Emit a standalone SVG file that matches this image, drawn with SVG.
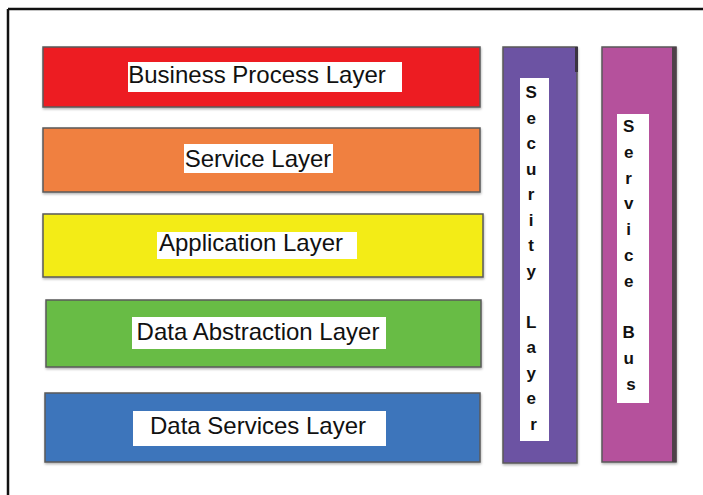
<svg xmlns="http://www.w3.org/2000/svg" width="703" height="495" viewBox="0 0 703 495">
  <style>
    .bar { stroke: #5a5a5a; stroke-width: 1.5; }
    .tag { fill: #ffffff; }
    .lbl { font-family: "Liberation Sans", Arial, sans-serif; font-size: 24px; fill: #111111; text-anchor: middle; }
    .vl { font-family: "Liberation Sans", Arial, sans-serif; font-size: 17px; font-weight: bold; fill: #111111; text-anchor: middle; }
  </style>
  <defs>
    <filter id="shade" x="-5%" y="-5%" width="110%" height="115%">
      <feDropShadow dx="0.5" dy="1.5" stdDeviation="1" flood-color="#000000" flood-opacity="0.3"/>
    </filter>
  </defs>

  <rect x="0" y="0" width="703" height="495" fill="#ffffff"/>

  <!-- frame: top and left edges -->
  <g id="frame" stroke="#111111" stroke-width="2.5" fill="none">
    <line x1="8" y1="9" x2="703" y2="9"/>
    <line x1="8" y1="9" x2="8" y2="495"/>
  </g>

  <g id="business-process-layer">
    <rect class="bar" x="43" y="47" width="437" height="60" fill="#ED1C24" filter="url(#shade)"/>
    <rect class="tag" x="128" y="62" width="274" height="30"/>
    <text class="lbl" x="257" y="83">Business Process Layer</text>
  </g>

  <g id="service-layer">
    <rect class="bar" x="43" y="128" width="437" height="64" fill="#F08040" filter="url(#shade)"/>
    <rect class="tag" x="184" y="144" width="149" height="29"/>
    <text class="lbl" x="258" y="167">Service Layer</text>
  </g>

  <g id="application-layer">
    <rect class="bar" x="43" y="214" width="440" height="63" fill="#F3EC19" filter="url(#shade)"/>
    <rect class="tag" x="157" y="232" width="200" height="27"/>
    <text class="lbl" x="251" y="251">Application Layer</text>
  </g>

  <g id="data-abstraction-layer">
    <rect class="bar" x="46" y="300" width="435" height="67" fill="#68BC45" filter="url(#shade)"/>
    <rect class="tag" x="132" y="317" width="254" height="32"/>
    <text class="lbl" x="258" y="340">Data Abstraction Layer</text>
  </g>

  <g id="data-services-layer">
    <rect class="bar" x="45" y="393" width="435" height="69" fill="#3E75BB" filter="url(#shade)"/>
    <rect class="tag" x="133" y="411" width="253" height="35"/>
    <text class="lbl" x="258" y="434">Data Services Layer</text>
  </g>

  <g id="security-layer">
    <rect class="bar" x="503" y="47" width="74" height="416" fill="#6C52A3" filter="url(#shade)"/>
    <rect x="575" y="47" width="3" height="25" fill="#3a3340"/>
    <rect class="tag" x="520" y="78" width="29" height="363"/>
    <text class="vl" x="533.5">
      <tspan x="533.5" y="98">S</tspan>
      <tspan x="533.5" y="123.5">e</tspan>
      <tspan x="533.5" y="149">c</tspan>
      <tspan x="533.5" y="174.5">u</tspan>
      <tspan x="533.5" y="200">r</tspan>
      <tspan x="533.5" y="225.5">i</tspan>
      <tspan x="533.5" y="251">t</tspan>
      <tspan x="533.5" y="276.5">y</tspan>
      <tspan x="533.5" y="327.5">L</tspan>
      <tspan x="533.5" y="353">a</tspan>
      <tspan x="533.5" y="378.5">y</tspan>
      <tspan x="533.5" y="404">e</tspan>
      <tspan x="533.5" y="429.5">r</tspan>
    </text>
  </g>

  <g id="service-bus">
    <rect class="bar" x="602" y="47" width="74" height="415" fill="#B5519C" filter="url(#shade)"/>
    <rect x="672" y="47" width="4.5" height="415" fill="#4f4049"/>
    <rect class="tag" x="617" y="114" width="32" height="289"/>
    <text class="vl" x="631">
      <tspan x="631" y="132">S</tspan>
      <tspan x="631" y="157.8">e</tspan>
      <tspan x="631" y="183.6">r</tspan>
      <tspan x="631" y="209.4">v</tspan>
      <tspan x="631" y="235.2">i</tspan>
      <tspan x="631" y="261">c</tspan>
      <tspan x="631" y="286.8">e</tspan>
      <tspan x="631" y="338.4">B</tspan>
      <tspan x="631" y="364.2">u</tspan>
      <tspan x="631" y="390">s</tspan>
    </text>
  </g>

  <g id="connectors"/>
</svg>
